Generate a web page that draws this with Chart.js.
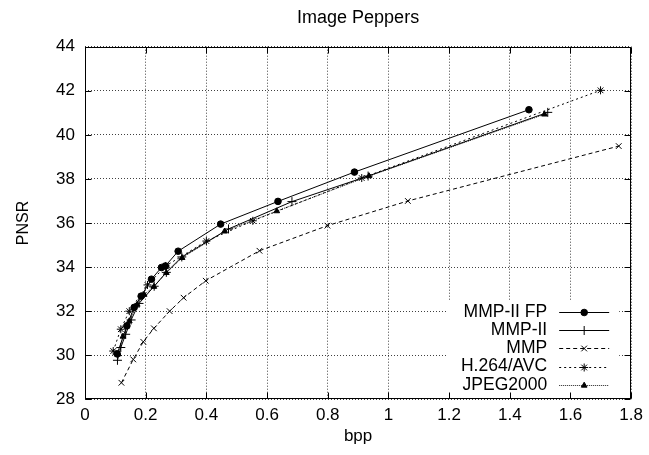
<!DOCTYPE html>
<html><head><meta charset="utf-8">
<script src="https://cdn.jsdelivr.net/npm/chart.js@4.4.0/dist/chart.umd.min.js"></script>
<style>html,body{margin:0;padding:0;background:#fff}canvas{display:block}</style>
</head><body><canvas id="c" width="649" height="455"></canvas>
<script>
const chartTitle = 'Image Peppers';
const xTitle = 'bpp';
const yTitle = 'PNSR';
const seriesNames = ['MMP-II FP', 'MMP-II', 'MMP', 'H.264/AVC', 'JPEG2000'];

const fpBpp   = [0.106, 0.138, 0.162, 0.185, 0.219, 0.252, 0.265, 0.307, 0.447, 0.636, 0.888, 1.463];
const fpPsnr  = [30.06, 31.33, 32.17, 32.68, 33.45, 33.98, 34.05, 34.72, 35.95, 36.98, 38.31, 41.14];

const mmp2Bpp  = [0.107, 0.118, 0.134, 0.152, 0.178, 0.228, 0.268, 0.319, 0.473, 0.682, 0.933, 1.525];
const mmp2Psnr = [29.77, 30.35, 30.95, 31.60, 32.35, 33.13, 33.76, 34.46, 35.73, 36.97, 38.13, 41.02];

const mmpBpp  = [0.120, 0.159, 0.192, 0.227, 0.279, 0.325, 0.398, 0.575, 0.799, 1.064, 1.759];
const mmpPsnr = [28.75, 29.81, 30.61, 31.22, 32.00, 32.61, 33.38, 34.74, 35.88, 37.00, 39.49];

const h264Bpp  = [0.093, 0.118, 0.146, 0.206, 0.266, 0.400, 0.553, 0.912, 1.699];
const h264Psnr = [30.19, 31.18, 32.00, 33.19, 34.05, 35.18, 36.10, 38.04, 42.02];

const jpegBpp  = [0.110, 0.125, 0.146, 0.172, 0.195, 0.227, 0.268, 0.320, 0.460, 0.632, 0.936, 1.514];
const jpegPsnr = [30.05, 30.85, 31.55, 32.30, 32.75, 33.11, 33.74, 34.42, 35.62, 36.54, 38.13, 40.93];

const xTickValues = [0, 0.2, 0.4, 0.6, 0.8, 1, 1.2, 1.4, 1.6, 1.8];
const yTickValues = [28, 30, 32, 34, 36, 38, 40, 42, 44];

const pts = (xs, ys) => xs.map((x, i) => ({x, y: ys[i]}));
const FONT = '"Liberation Sans", Arial, sans-serif';
Chart.defaults.font.family = FONT;
Chart.defaults.color = '#000';

const styles = [
  {pointStyle: 'circle',   pointRadius: 3.3, dash: [],     color: '#000', fill: '#000'},
  {pointStyle: 'cross',    pointRadius: 4.5, dash: [],     color: '#000', fill: '#000'},
  {pointStyle: 'crossRot', pointRadius: 4,   dash: [4, 3], color: '#000', fill: '#000'},
  {pointStyle: 'star',     pointRadius: 4,   dash: [2, 3], color: '#000', fill: '#000'},
  {pointStyle: 'triangle', pointRadius: 3.3, dash: [1, 1], color: '#222', fill: '#000'}
];
const seriesData = [pts(fpBpp, fpPsnr), pts(mmp2Bpp, mmp2Psnr), pts(mmpBpp, mmpPsnr), pts(h264Bpp, h264Psnr), pts(jpegBpp, jpegPsnr)];

const datasets = seriesNames.map((name, i) => ({
  label: name,
  data: seriesData[i],
  showLine: true,
  borderColor: styles[i].color,
  backgroundColor: styles[i].fill,
  borderWidth: 1,
  borderDash: styles[i].dash,
  pointStyle: styles[i].pointStyle,
  pointRadius: styles[i].pointRadius,
  pointBorderWidth: 1,
  pointBorderColor: '#000',
  pointBackgroundColor: styles[i].fill,
  tension: 0
}));

const titlePlugin = {
  id: 'plotTitle',
  afterDraw(chart) {
    const {ctx, chartArea: a} = chart;
    ctx.save();
    ctx.font = '18px ' + FONT;
    ctx.fillStyle = '#000';
    ctx.textAlign = 'center';
    ctx.textBaseline = 'middle';
    ctx.fillText(chartTitle, (a.left + a.right) / 2, 18);
    ctx.restore();
  }
};

const keyPlugin = {
  id: 'keyBox',
  afterDatasetsDraw(chart) {
    const {ctx, chartArea: a} = chart;
    ctx.save();
    ctx.fillStyle = '#fff';
    ctx.fillRect(a.right - 185, a.bottom - 99, 173, 98);
    chart.data.datasets.forEach((ds, i) => {
      const y = a.bottom - 87.6 + i * 18.3;
      ctx.font = '17.5px ' + FONT;
      ctx.textAlign = 'right';
      ctx.textBaseline = 'middle';
      ctx.fillStyle = '#000';
      ctx.fillText(ds.label, a.right - 84, y);
      ctx.strokeStyle = ds.borderColor;
      ctx.lineWidth = 1;
      ctx.setLineDash(ds.borderDash || []);
      ctx.beginPath();
      ctx.moveTo(a.right - 72, Math.round(y) + 0.5);
      ctx.lineTo(a.right - 22, Math.round(y) + 0.5);
      ctx.stroke();
      ctx.setLineDash([]);
      ctx.fillStyle = ds.pointBackgroundColor;
      ctx.strokeStyle = '#000';
      Chart.helpers.drawPoint(ctx, {pointStyle: ds.pointStyle, radius: ds.pointRadius, borderWidth: 1, rotation: 0}, a.right - 47, Math.round(y) + 0.5);
    });
    ctx.restore();
  }
};

const framePlugin = {
  id: 'frame',
  afterDraw(chart) {
    const {ctx, chartArea: a, scales} = chart;
    ctx.save();
    ctx.strokeStyle = '#000';
    ctx.lineWidth = 1;
    ctx.setLineDash([]);
    const L = Math.round(a.left) + 0.5, R = Math.round(a.right) - 0.5;
    const T = Math.round(a.top) + 0.5, B = Math.round(a.bottom) - 0.5;
    ctx.strokeRect(L, T, R - L, B - T);
    ctx.beginPath();
    yTickValues.forEach(v => {
      const y = Math.round(scales.y.getPixelForValue(v)) + 0.5;
      ctx.moveTo(L, y); ctx.lineTo(L + 6, y);
      ctx.moveTo(R, y); ctx.lineTo(R - 6, y);
    });
    xTickValues.forEach(v => {
      const x = Math.round(scales.x.getPixelForValue(v)) + 0.5;
      ctx.moveTo(x, B); ctx.lineTo(x, B - 6);
      ctx.moveTo(x, T); ctx.lineTo(x, T + 6);
    });
    ctx.stroke();
    ctx.restore();
  }
};

new Chart(document.getElementById('c'), {
  type: 'scatter',
  data: {datasets},
  plugins: [keyPlugin, framePlugin, titlePlugin],
  options: {
    responsive: false,
    animation: false,
    layout: {padding: {left: 0, right: 16, top: 46.7, bottom: 0}},
    plugins: {
      legend: {display: false},
      tooltip: {enabled: false},
      title: {display: false}
    },
    scales: {
      x: {
        type: 'linear', min: 0, max: 1.8,
        afterBuildTicks: s => { s.ticks = xTickValues.map(v => ({value: v})); },
        afterFit: s => { s.height = 55.7; },
        ticks: {font: {size: 17}, color: '#000', padding: 6, autoSkip: false, maxRotation: 0, callback: v => String(+(+v).toFixed(1))},
        grid: {color: 'rgba(0,0,0,0.75)', lineWidth: 1, drawTicks: false},
        border: {display: false, dash: [1, 2]},
        title: {display: true, text: xTitle, font: {size: 17}, color: '#000', padding: {top: 0, bottom: 8}}
      },
      y: {
        type: 'linear', min: 28, max: 44,
        afterBuildTicks: s => { s.ticks = yTickValues.map(v => ({value: v})); },
        afterFit: s => { s.width = 85; },
        ticks: {font: {size: 17}, color: '#000', padding: 10, autoSkip: false, callback: v => String(v)},
        grid: {color: 'rgba(0,0,0,0.75)', lineWidth: 1, drawTicks: false},
        border: {display: false, dash: [1, 2]},
        title: {display: true, text: yTitle, font: {size: 16}, color: '#000', padding: {top: 14, bottom: 0}}
      }
    }
  }
});
</script>
</body></html>
